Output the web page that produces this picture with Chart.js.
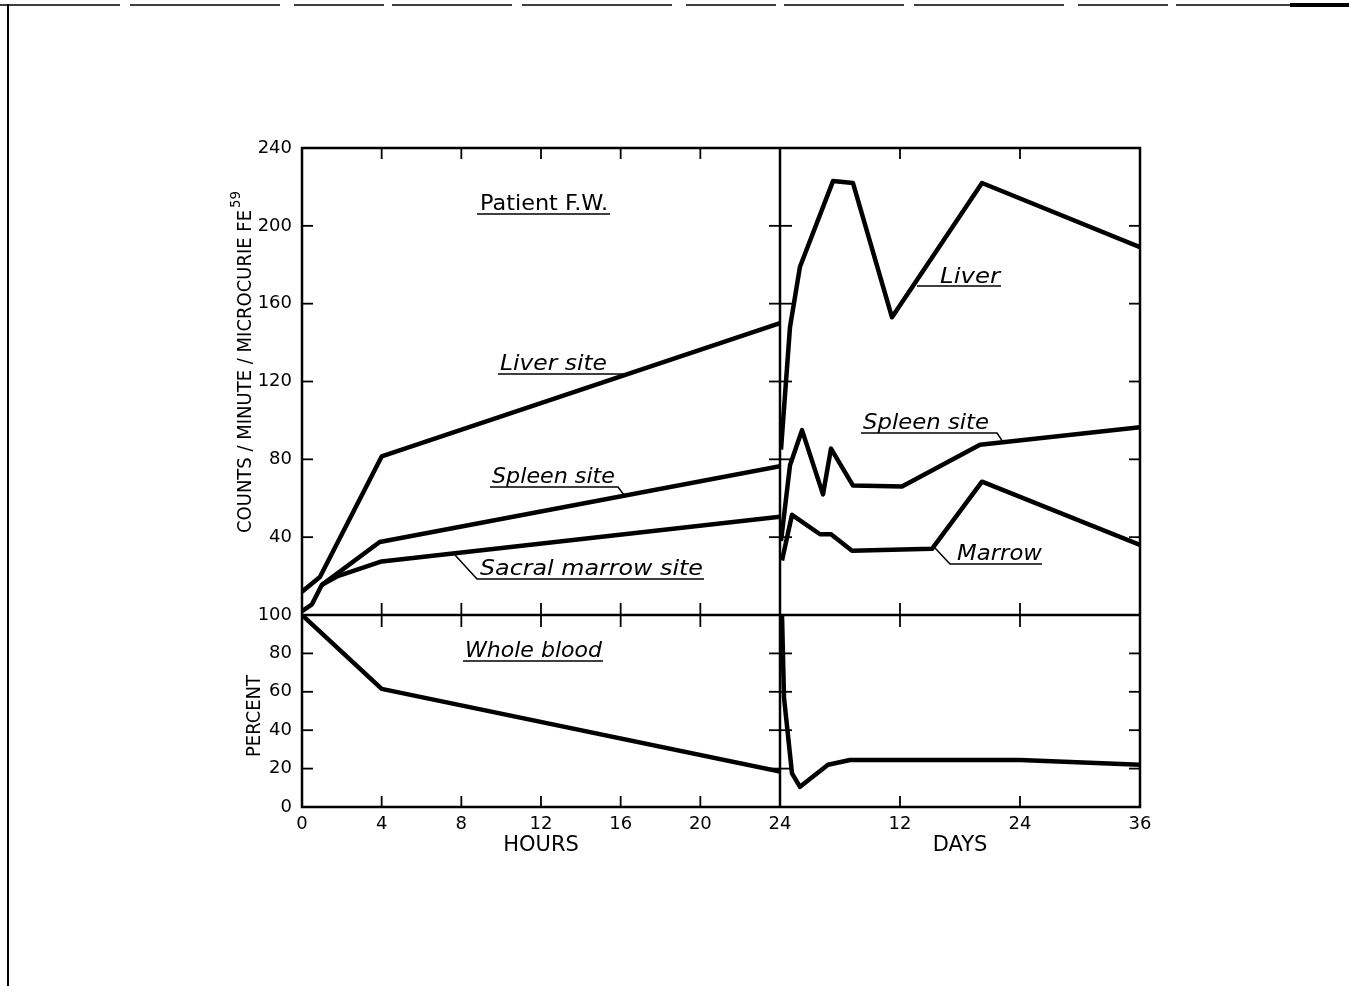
<!DOCTYPE html>
<html>
<head>
<meta charset="utf-8">
<title>Patient F.W. - Fe59</title>
<script src="https://cdn.jsdelivr.net/npm/chart.js@4.4.1/dist/chart.umd.min.js"></script>
<style>
  html, body { margin: 0; padding: 0; background: #fff; }
  canvas { display: block; }
</style>
</head>
<body>
<canvas id="fe-chart" width="1349" height="986"></canvas>
<script>
  "use strict";

  // Axis ticks
  var hourTicks = [0, 4, 8, 12, 16, 20, 24];
  var dayTicks = [0, 12, 24, 36];
  var countTicks = [0, 40, 80, 120, 160, 200, 240];
  var percentTicks = [0, 20, 40, 60, 80, 100];

  // First 24 hours (counts / minute / microcurie)
  var liverSiteHours = [0, 0.9, 4, 24];
  var liverSiteCounts = [12, 19.5, 81.5, 150];
  var spleenSiteHours = [0, 0.5, 1, 3.9, 24];
  var spleenSiteCounts = [2, 5.5, 15.5, 37.5, 76.5];
  var marrowSiteHours = [1, 1.8, 4, 24];
  var marrowSiteCounts = [15.5, 20, 27.5, 50.5];

  // First 24 hours (percent)
  var bloodHours = [0, 4, 24];
  var bloodPercent = [100, 61.5, 18.5];

  // Days
  var liverDays = [0.1, 1, 2, 5.3, 7.3, 11.2, 20.2, 36];
  var liverCounts = [85, 148, 179, 223, 222, 153, 222, 189];
  var spleenDays = [0.1, 1, 2.2, 4.3, 5.1, 7.3, 12.2, 20, 36];
  var spleenCounts = [38, 77, 95, 62, 85.5, 66.5, 66, 87.5, 96.5];
  var marrowDays = [0.2, 1.2, 4, 5.1, 7.2, 15.2, 20.2, 36];
  var marrowCounts = [28, 51.5, 41.5, 41.5, 33, 34, 68.5, 36];
  var bloodDays = [0.2, 0.4, 1.2, 2, 4.8, 7, 24, 36];
  var bloodDaysPercent = [100, 57, 17.5, 10.5, 22, 24.5, 24.5, 22];

  function points(xs, ys) {
    return xs.map(function (x, i) {
      return { x: x, y: ys[i] };
    });
  }

  function series(label, xs, ys, xAxis, yAxis) {
    return {
      label: label,
      data: points(xs, ys),
      xAxisID: xAxis,
      yAxisID: yAxis,
      borderColor: "#000",
      borderWidth: 4.5,
      borderJoinStyle: "round",
      pointRadius: 0,
      tension: 0,
      fill: false,
    };
  }

  var tickFont = { family: "'DejaVu Sans', sans-serif", size: 18 };
  var titleFont = { family: "'DejaVu Sans', sans-serif", size: 21 };

  // Text fitted to a given width (left edge, baseline)
  function fitText(ctx, text, x, y, w, font) {
    ctx.save();
    ctx.font = font;
    var m = ctx.measureText(text).width;
    ctx.translate(x, y);
    ctx.scale(w / m, 1);
    ctx.textAlign = "left";
    ctx.textBaseline = "alphabetic";
    ctx.fillText(text, 0, 0);
    ctx.restore();
  }

  function fitTextUp(ctx, text, x, y, len, font) {
    ctx.save();
    ctx.font = font;
    var m = ctx.measureText(text).width;
    ctx.translate(x, y);
    ctx.rotate(-Math.PI / 2);
    ctx.scale(len / m, 1);
    ctx.textAlign = "left";
    ctx.textBaseline = "alphabetic";
    ctx.fillText(text, 0, 0);
    ctx.restore();
  }

  function polyline(ctx, pts) {
    ctx.beginPath();
    ctx.moveTo(pts[0][0], pts[0][1]);
    for (var i = 1; i < pts.length; i++) ctx.lineTo(pts[i][0], pts[i][1]);
    ctx.stroke();
  }

  // Curve labels and leader lines
  var italic = "italic 22px 'DejaVu Sans'";
  var notes = [
    { text: "Patient F.W.", x: 480, y: 210, w: 128, font: "21px 'DejaVu Sans'", line: [[477, 214], [610, 214]] },
    { text: "Liver site", x: 500, y: 370, w: 107, font: italic, line: [[498, 374], [630, 374]] },
    { text: "Spleen site", x: 492, y: 483, w: 123, font: italic, line: [[490, 487], [618, 487], [624, 495]] },
    { text: "Sacral marrow site", x: 480, y: 575, w: 223, font: italic, line: [[455, 555], [477, 579], [704, 579]] },
    { text: "Whole blood", x: 465, y: 657, w: 137, font: italic, line: [[463, 661], [603, 661]] },
    { text: "Liver", x: 940, y: 283, w: 60, font: italic, line: [[917, 286], [1001, 286]] },
    { text: "Spleen site", x: 863, y: 429, w: 126, font: italic, line: [[861, 433], [997, 433], [1003, 442]] },
    { text: "Marrow", x: 957, y: 560, w: 85, font: italic, line: [[935, 548], [950, 564], [1042, 564]] },
  ];

  // Frame, inner tick marks, labels
  var framePlugin = {
    id: "frame",
    afterDraw: function (chart) {
      var ctx = chart.ctx;
      var s = chart.scales;
      var x0 = s.xh.getPixelForValue(0);
      var xm = s.xh.getPixelForValue(24);
      var x1 = s.xd.getPixelForValue(36);
      var y0 = s.yc.getPixelForValue(240);
      var ym = s.yp.getPixelForValue(100);
      var y1 = s.yp.getPixelForValue(0);

      ctx.save();
      ctx.strokeStyle = "#000";
      ctx.fillStyle = "#000";
      ctx.lineCap = "butt";

      ctx.lineWidth = 2.5;
      ctx.strokeRect(x0, y0, x1 - x0, y1 - y0);
      polyline(ctx, [[xm, y0], [xm, y1]]);
      polyline(ctx, [[x0, ym], [x1, ym]]);

      ctx.lineWidth = 1.8;
      var xPix = [];
      hourTicks.slice(1, -1).forEach(function (h) { xPix.push(s.xh.getPixelForValue(h)); });
      dayTicks.slice(1, -1).forEach(function (d) { xPix.push(s.xd.getPixelForValue(d)); });
      xPix.forEach(function (px) {
        polyline(ctx, [[px, y0], [px, y0 + 11]]);
        polyline(ctx, [[px, y1], [px, y1 - 11]]);
        polyline(ctx, [[px, ym - 12], [px, ym + 12]]);
      });
      var yPix = [];
      countTicks.slice(1, -1).forEach(function (c) { yPix.push(s.yc.getPixelForValue(c)); });
      percentTicks.slice(1, -1).forEach(function (p) { yPix.push(s.yp.getPixelForValue(p)); });
      yPix.forEach(function (py) {
        polyline(ctx, [[x0, py], [x0 + 11, py]]);
        polyline(ctx, [[x1, py], [x1 - 11, py]]);
        polyline(ctx, [[xm - 11, py], [xm + 12, py]]);
      });

      // curve labels
      ctx.lineWidth = 1.5;
      notes.forEach(function (n) {
        fitText(ctx, n.text, n.x, n.y, n.w, n.font);
        polyline(ctx, n.line);
      });

      // y titles
      fitTextUp(ctx, "COUNTS / MINUTE / MICROCURIE FE", 251, 533, 323, "19px 'DejaVu Sans'");
      fitTextUp(ctx, "59", 240, 208, 17, "14px 'DejaVu Sans'");
      fitTextUp(ctx, "PERCENT", 260, 757, 82, "19px 'DejaVu Sans'");

      // scan edges
      ctx.lineWidth = 2;
      polyline(ctx, [[8, 4], [8, 986]]);
      ctx.lineWidth = 1.5;
      ctx.setLineDash([120, 10, 150, 14, 90, 8]);
      polyline(ctx, [[0, 5], [1290, 5]]);
      ctx.setLineDash([]);
      ctx.lineWidth = 4;
      polyline(ctx, [[1290, 5], [1349, 5]]);
      ctx.restore();
    },
  };

  function noEdgePadding(scale) {
    scale.paddingLeft = 0;
    scale.paddingRight = 0;
    scale.paddingTop = 0;
    scale.paddingBottom = 0;
  }

  var ctx = document.getElementById("fe-chart").getContext("2d");
  var feChart = new Chart(ctx, {
    type: "line",
    data: {
      datasets: [
        series("Liver site", liverSiteHours, liverSiteCounts, "xh", "yc"),
        series("Spleen site", spleenSiteHours, spleenSiteCounts, "xh", "yc"),
        series("Sacral marrow site", marrowSiteHours, marrowSiteCounts, "xh", "yc"),
        series("Whole blood", bloodHours, bloodPercent, "xh", "yp"),
        series("Liver", liverDays, liverCounts, "xd", "yc"),
        series("Spleen site", spleenDays, spleenCounts, "xd", "yc"),
        series("Marrow", marrowDays, marrowCounts, "xd", "yc"),
        series("Whole blood", bloodDays, bloodDaysPercent, "xd", "yp"),
      ],
    },
    options: {
      responsive: false,
      animation: false,
      events: [],
      layout: { padding: { left: 242, right: 209, top: 148, bottom: 128 } },
      plugins: { legend: { display: false }, tooltip: { enabled: false } },
      scales: {
        xh: {
          type: "linear",
          position: "bottom",
          stack: "x",
          stackWeight: 478,
          min: 0,
          max: 24,
          afterBuildTicks: function (scale) {
            scale.ticks = hourTicks.map(function (v) { return { value: v }; });
          },
          afterFit: function (scale) { scale.height = 51; noEdgePadding(scale); },
          grid: { display: false, drawTicks: false },
          border: { display: false },
          ticks: { autoSkip: false, maxRotation: 0, padding: 7, color: "#000", font: tickFont },
          title: { display: true, text: "HOURS", color: "#000", padding: 0, font: titleFont },
        },
        xd: {
          type: "linear",
          position: "bottom",
          stack: "x",
          stackWeight: 360,
          min: 0,
          max: 36,
          afterBuildTicks: function (scale) {
            scale.ticks = dayTicks.map(function (v) { return { value: v }; });
          },
          afterFit: function (scale) { scale.height = 51; noEdgePadding(scale); },
          grid: { display: false, drawTicks: false },
          border: { display: false },
          ticks: {
            autoSkip: false,
            maxRotation: 0,
            padding: 7,
            color: "#000",
            font: tickFont,
            callback: function (v) { return v === 0 ? "" : v; },
          },
          title: { display: true, text: "DAYS", color: "#000", padding: 0, font: titleFont },
        },
        yp: {
          type: "linear",
          position: "left",
          stack: "y",
          stackWeight: 192,
          min: 0,
          max: 100,
          afterBuildTicks: function (scale) {
            scale.ticks = percentTicks.map(function (v) { return { value: v }; });
          },
          afterFit: function (scale) { scale.width = 60; noEdgePadding(scale); },
          grid: { display: false, drawTicks: false },
          border: { display: false },
          ticks: { autoSkip: false, padding: 10, color: "#000", font: tickFont },
        },
        yc: {
          type: "linear",
          position: "left",
          stack: "y",
          stackWeight: 467,
          min: 0,
          max: 240,
          afterBuildTicks: function (scale) {
            scale.ticks = countTicks.map(function (v) { return { value: v }; });
          },
          afterFit: function (scale) { scale.width = 60; noEdgePadding(scale); },
          grid: { display: false, drawTicks: false },
          border: { display: false },
          ticks: {
            autoSkip: false,
            padding: 10,
            color: "#000",
            font: tickFont,
            callback: function (v) { return v === 0 ? "" : v; },
          },
        },
      },
    },
    plugins: [framePlugin],
  });
</script>
</body>
</html>
